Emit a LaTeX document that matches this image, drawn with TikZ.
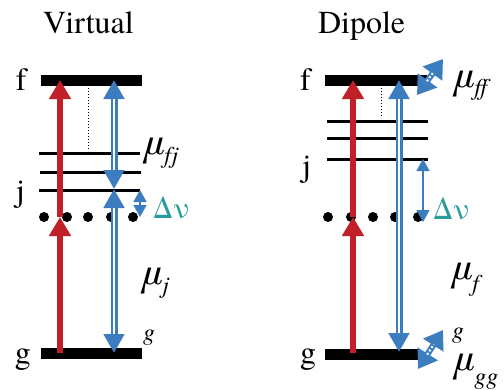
\documentclass[tikz,border=0pt]{standalone}
\usepackage{fontspec}
\IfFontExistsTF{texgyretermes-regular.otf}
  {\setmainfont{texgyretermes}[Extension=.otf,UprightFont=*-regular,ItalicFont=*-italic,BoldFont=*-bold,BoldItalicFont=*-bolditalic]}
  {\setmainfont{Liberation Serif}}
\usetikzlibrary{arrows.meta}
\definecolor{myred}{RGB}{193,32,40}
\definecolor{myblue}{RGB}{59,125,190}
\definecolor{myteal}{RGB}{40,155,155}
\newcommand\LabF{\fontsize{32}{32}\selectfont}
\newcommand\MuF{\fontsize{38}{38}\selectfont\itshape}
\newcommand\SubF{\fontsize{24}{24}\selectfont\itshape}
\newcommand\DnuF{\fontsize{30}{30}\selectfont\color{myteal}}
\begin{document}
\begin{tikzpicture}[x=1pt,y=-1pt,
  bar/.style={line width=11pt},
  thinlvl/.style={line width=3pt},
  dotline/.style={line width=1pt, dotted},
  lab/.style={anchor=base west, inner sep=0pt, outer sep=0pt},
  redarr/.style={draw=myred, line width=6.5pt, -{Triangle[width=21pt,length=19pt]}},
  bluearr/.style={draw=myblue, line width=7pt, {Triangle[width=20pt,length=19pt]}-{Triangle[width=20pt,length=19pt]}},
  bluegap/.style={draw=white, line width=2.5pt, shorten <=19pt, shorten >=19pt},
  tiltarr/.style={draw=myblue, line width=6pt, {Triangle[width=23pt,length=18pt]}-{Triangle[width=23pt,length=18pt]}},
  tiltgap/.style={draw=white, line width=2pt, dashed, dash pattern=on 2pt off 2pt, shorten <=17pt, shorten >=17pt},
  smallarr/.style={draw=myblue, line width=1.5pt, {Triangle[width=13pt,length=12pt]}-{Triangle[width=13pt,length=12pt]}},
  dotc/.style={circle, fill=black, inner sep=0pt, minimum size=10pt}
]
\useasboundingbox (0,0) rectangle (504,389);

% ---------------- Left panel: Virtual ----------------
\node[lab] (tV) at (43,33) {\LabF Virtual};
\coordinate (fLa) at (41,80);  \coordinate (fLb) at (142,80);
\coordinate (gLa) at (41,353); \coordinate (gLb) at (142,353);
\draw[bar] (fLa) -- (fLb);
\draw[bar] (gLa) -- (gLb);
\coordinate (l1a) at (39,153); \coordinate (l1b) at (140,153);
\coordinate (l2a) at (40,172); \coordinate (l2b) at (141,172);
\coordinate (l3a) at (39,190); \coordinate (l3b) at (140,190);
\draw[thinlvl] (l1a) -- (l1b);
\draw[thinlvl] (l2a) -- (l2b);
\draw[thinlvl] (l3a) -- (l3b);
\coordinate (dtLa) at (88,88); \coordinate (dtLb) at (88,150);
\draw[dotline] (dtLa) -- (dtLb);
\node[dotc] (dL1) at (44,217) {};
\node[dotc] (dL2) at (67,217) {};
\node[dotc] (dL3) at (88,217) {};
\node[dotc] (dL4) at (111,217) {};
\node[dotc] (dL5) at (133,217) {};
\node[lab] (lfL) at (16,90) {\LabF f};
\node[lab] (ljL) at (16,201) {\LabF j};
\node[lab] (lgL) at (15,363) {\LabF g};
% red arrows
\coordinate (rL0) at (60,353); \coordinate (rL1) at (60,217); \coordinate (rL2) at (60,80);
\draw[redarr] (rL1) -- (rL2);
\draw[redarr] (rL0) -- (rL1);
% blue double arrows
\coordinate (bL0) at (114,80); \coordinate (bL1) at (114,189); \coordinate (bL2) at (114,353);
\draw[bluearr] (bL0) -- (bL1);
\draw[bluegap] (bL0) -- (bL1);
\draw[bluearr] (bL1) -- (bL2);
\draw[bluegap] (bL1) -- (bL2);
% delta nu
\coordinate (sL0) at (140,190); \coordinate (sL1) at (140,217);
\draw[smallarr] (sL0) -- (sL1);
\node[lab] (dnL) at (153,218) {\DnuF Δν};
% mu labels
\node[lab] (mufj) at (142,154) {\MuF μ\raisebox{-9pt}{\SubF fj}};
\node[lab] (muj) at (140,284) {\MuF μ\raisebox{-9pt}{\SubF j}};
\node[lab] (gsL) at (143,340) {\SubF g};

% ---------------- Right panel: Dipole ----------------
\node[lab] (tD) at (318,33) {\LabF Dipole};
\coordinate (fRa) at (325,80);  \coordinate (fRb) at (427,80);
\coordinate (gRa) at (325,354); \coordinate (gRb) at (420,354);
\draw[bar] (fRa) -- (fRb);
\draw[bar] (gRa) -- (gRb);
\coordinate (r1a) at (327,121); \coordinate (r1b) at (428,121);
\coordinate (r2a) at (327,138); \coordinate (r2b) at (428,138);
\coordinate (r3a) at (327,159); \coordinate (r3b) at (428,159);
\draw[thinlvl] (r1a) -- (r1b);
\draw[thinlvl] (r2a) -- (r2b);
\draw[thinlvl] (r3a) -- (r3b);
\coordinate (dtRa) at (381,85); \coordinate (dtRb) at (381,118);
\draw[dotline] (dtRa) -- (dtRb);
\node[dotc] (dR1) at (328,217) {};
\node[dotc] (dR2) at (351,217) {};
\node[dotc] (dR3) at (373,217) {};
\node[dotc] (dR4) at (395,217) {};
\node[dotc] (dR5) at (418,217) {};
\node[lab] (lfR) at (300,90) {\LabF f};
\node[lab] (ljR) at (302,176) {\LabF j};
\node[lab] (lgR) at (300,363) {\LabF g};
% red arrows
\coordinate (rR0) at (353,353); \coordinate (rR1) at (353,217); \coordinate (rR2) at (353,80);
\draw[redarr] (rR1) -- (rR2);
\draw[redarr] (rR0) -- (rR1);
% blue double arrow
\coordinate (bR0) at (399,80); \coordinate (bR1) at (399,352);
\draw[bluearr] (bR0) -- (bR1);
\draw[bluegap] (bR0) -- (bR1);
% delta nu
\coordinate (sR0) at (423,159); \coordinate (sR1) at (423,222);
\draw[smallarr] (sR0) -- (sR1);
\node[lab] (dnR) at (433,219) {\DnuF Δν};
% tilted dipole arrows
\coordinate (tf0) at (417,95); \coordinate (tf1) at (443,59);
\draw[tiltarr] (tf0) -- (tf1);
\draw[tiltgap] (tf0) -- (tf1);
\coordinate (tg0) at (418,369); \coordinate (tg1) at (443,330);
\draw[tiltarr] (tg0) -- (tg1);
\draw[tiltgap] (tg0) -- (tg1);
% mu labels
\node[lab] (muff) at (452,87) {\MuF μ\raisebox{-8pt}{\SubF ff}};
\node[lab] (muf) at (450,279) {\MuF μ\raisebox{-12pt}{\SubF f}};
\node[lab] (gsR) at (452,338) {\SubF g};
\node[lab] (mugg) at (452,370) {\MuF μ\raisebox{-14pt}{\SubF gg}};
\end{tikzpicture}
\end{document}
